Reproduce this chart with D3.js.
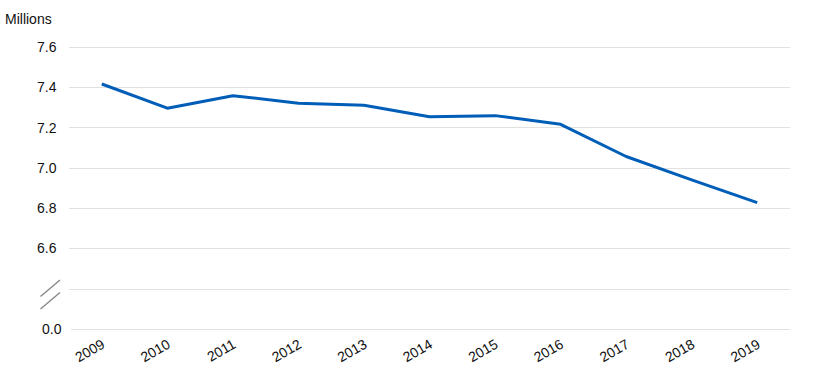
<!DOCTYPE html>
<html>
<head>
<meta charset="utf-8">
<script src="https://cdn.jsdelivr.net/npm/d3@7"></script>
<style>
  body { margin: 0; background: #fff; }
  text { font-family: "Liberation Sans", Arial, sans-serif; fill: #111; }
</style>
</head>
<body>
<div id="chart"></div>
<script>
var years = ["2009", "2010", "2011", "2012", "2013", "2014", "2015", "2016", "2017", "2018", "2019"];
var values = [7.416, 7.296, 7.358, 7.321, 7.311, 7.253, 7.259, 7.216, 7.056, 6.94, 6.827];
var yTicks = [0, 6.4, 6.6, 6.8, 7.0, 7.2, 7.4, 7.6];
var yLabels = ["0.0", "", "6.6", "6.8", "7.0", "7.2", "7.4", "7.6"];

var width = 827, height = 385;

var svg = d3.select("#chart")
  .append("svg")
  .attr("width", width)
  .attr("height", height);

// band scale so the points sit in the middle of each year slot
var x = d3.scaleBand()
  .domain(years)
  .range([69, 790]);

// broken axis: 0 sits one row below 6.4
var y = d3.scaleLinear()
  .domain([0, 6.4, 7.6])
  .range([328.7, 288.5, 47]);

// gridlines
svg.selectAll(".grid")
  .data(yTicks)
  .enter().append("line")
  .attr("class", "grid")
  .attr("x1", function(d) { return d == 0 ? 71 : 69; })
  .attr("x2", 790)
  .attr("y1", function(d) { return Math.round(y(d)) + 0.5; })
  .attr("y2", function(d) { return Math.round(y(d)) + 0.5; })
  .style("stroke", "#e1e1e1")
  .style("stroke-width", 1);

// y labels
svg.selectAll(".ylab")
  .data(yTicks)
  .enter().append("text")
  .attr("class", "ylab")
  .attr("x", function(d) { return d == 0 ? 61.5 : 56.5; })
  .attr("y", function(d) { return y(d) + 5; })
  .attr("text-anchor", "end")
  .style("font-size", "14px")
  .text(function(d, i) { return yLabels[i]; });

// axis break marks
var breakY = y(6.4);
[0, 12.5].forEach(function(off) {
  svg.append("line")
    .attr("x1", 40.5).attr("y1", breakY + off + 8)
    .attr("x2", 60).attr("y2", breakY + off - 8.5)
    .style("stroke", "#888")
    .style("stroke-width", 1.4);
});

svg.append("text")
  .attr("x", 5)
  .attr("y", 24)
  .style("font-size", "14px")
  .text("Millions");

// x labels
svg.selectAll(".xlab")
  .data(years)
  .enter().append("text")
  .attr("class", "xlab")
  .attr("text-anchor", "end")
  .attr("transform", function(d) {
    return "translate(" + (x(d) + x.bandwidth() / 2 + 4) + ",347) rotate(-30)";
  })
  .style("font-size", "14px")
  .text(function(d) { return d; });

var line = d3.line()
  .x(function(d, i) { return x(years[i]) + x.bandwidth() / 2; })
  .y(function(d) { return y(d); });

svg.append("path")
  .datum(values)
  .attr("d", line)
  .style("fill", "none")
  .style("stroke", "#005eb8")
  .style("stroke-width", 3)
  .style("stroke-linejoin", "round");
</script>
</body>
</html>
